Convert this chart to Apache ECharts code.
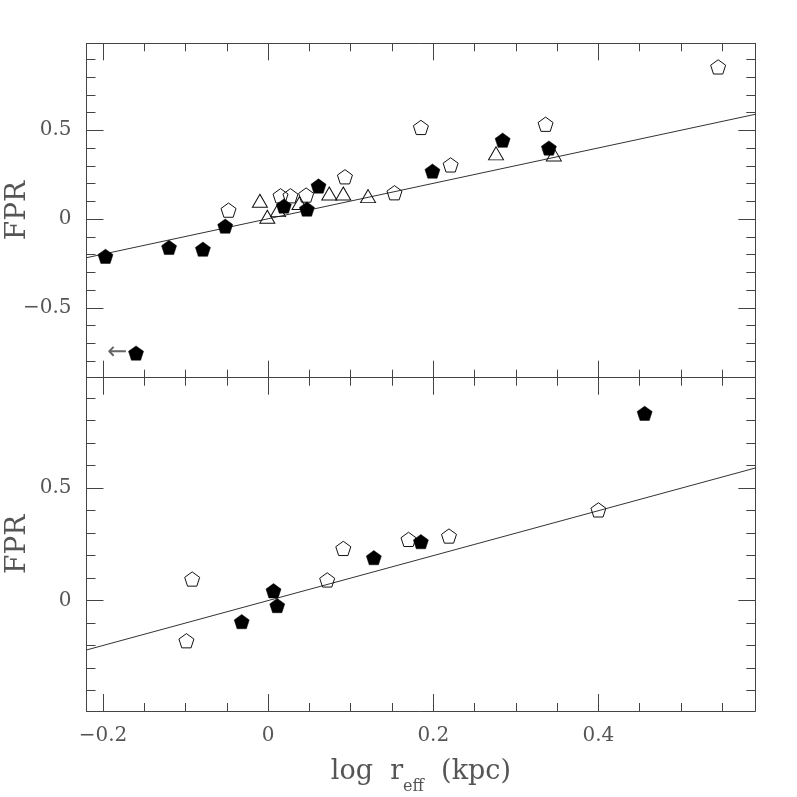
<!DOCTYPE html>
<html><head><meta charset="utf-8">
<script src="https://cdn.jsdelivr.net/npm/echarts@6/dist/echarts.min.js"></script>
<style>html,body{margin:0;padding:0;background:#fff}#c{width:797px;height:797px}</style>
</head><body><div id="c"></div><script>
// ---- axis ranges and ticks ----
const xRange = [-0.22, 0.59];
const topYRange = [-0.894, 0.99];
const botYRange = [-0.49, 0.99];
const xMajor = [-0.2, 0, 0.2, 0.4];
const xMinor = [-0.2,-0.15,-0.1,-0.05,0,0.05,0.1,0.15,0.2,0.25,0.3,0.35,0.4,0.45,0.5,0.55];
const topYMajor = [-0.5, 0, 0.5];
const topYMinor = [-0.8,-0.7,-0.6,-0.5,-0.4,-0.3,-0.2,-0.1,0,0.1,0.2,0.3,0.4,0.5,0.6,0.7,0.8,0.9];
const botYMajor = [0, 0.5];
const botYMinor = [-0.4,-0.3,-0.2,-0.1,0,0.1,0.2,0.3,0.4,0.5,0.6,0.7,0.8,0.9];

// ---- top panel data ----
const topFilledX = [-0.197, -0.12, -0.079, -0.052, 0.019, 0.047, 0.061, 0.199, 0.284, 0.34];
const topFilledY = [-0.21, -0.16, -0.17, -0.04, 0.073, 0.056, 0.186, 0.27, 0.444, 0.40];
const topLimitX = [-0.16];
const topLimitY = [-0.755];
const topOpenX = [-0.048, 0.015, 0.027, 0.046, 0.093, 0.153, 0.185, 0.221, 0.336, 0.545];
const topOpenY = [0.05, 0.131, 0.131, 0.135, 0.238, 0.148, 0.516, 0.305, 0.534, 0.857];
const topTriX = [-0.010, -0.001, 0.012, 0.038, 0.074, 0.091, 0.121, 0.276, 0.346];
const topTriY = [0.103, 0.013, 0.05, 0.09, 0.144, 0.144, 0.129, 0.37, 0.364];
const topFitX = [-0.22, 0.59];
const topFitY = [-0.218, 0.59];

// ---- bottom panel data ----
const botOpenX = [-0.092, -0.099, 0.0715, 0.091, 0.170, 0.219, 0.40];
const botOpenY = [0.096, -0.178, 0.092, 0.232, 0.272, 0.287, 0.403];
const botFilledX = [-0.032, 0.0065, 0.011, 0.128, 0.185, 0.456];
const botFilledY = [-0.093, 0.044, -0.022, 0.191, 0.262, 0.832];
const botFitX = [-0.22, 0.59];
const botFitY = [-0.219, 0.589];

const zip = (xs, ys) => xs.map((x, i) => [x, ys[i]]);
const frame = '#444';
const txt = '#555';
const font = 'DejaVu Serif';
const pent = 'path://M0,-100 L95.1,-30.9 L58.8,80.9 L-58.8,80.9 L-95.1,-30.9 Z';
const fmt = v => (v < 0 ? '\u2212' : '') + String(Math.abs(v));

function xAxes(grid, withLabels) {
  const base = {type:'value', gridIndex:grid, min:xRange[0], max:xRange[1], splitLine:{show:false},
    axisLine:{show:true, onZero:false, lineStyle:{color:frame, width:1}}, axisLabel:{show:false}};
  const tk = (vals, len) => ({show:true, inside:true, length:len, customValues:vals, lineStyle:{color:frame, width:1}});
  const main = Object.assign({}, base, {position:'bottom', axisTick:tk(xMajor, 17)});
  if (withLabels) {
    main.axisLabel = {show:true, customValues:xMajor, formatter:fmt, margin:15, fontSize:20, color:txt, fontFamily:font};
    main.name = '{n|log  r}{s|eff}{n|  (kpc)}';
    main.nameLocation = 'middle';
    main.nameGap = 46;
    main.nameMoveOverlap = false;
    main.nameTextStyle = {rich:{
      n:{fontSize:27, lineHeight:30, color:txt, fontFamily:font, verticalAlign:'middle'},
      s:{fontSize:16, lineHeight:30, color:txt, fontFamily:font, verticalAlign:'middle', padding:[30,0,0,0]}
    }};
  }
  return [main,
    Object.assign({}, base, {position:'bottom', axisLine:{show:false, onZero:false}, axisTick:tk(xMinor, 8)}),
    Object.assign({}, base, {position:'top', axisTick:tk(xMajor, 17)}),
    Object.assign({}, base, {position:'top', axisLine:{show:false, onZero:false}, axisTick:tk(xMinor, 8)})];
}
function yAxes(grid, range, major, minor) {
  const base = {type:'value', gridIndex:grid, min:range[0], max:range[1], splitLine:{show:false},
    axisLine:{show:true, onZero:false, lineStyle:{color:frame, width:1}}, axisLabel:{show:false}};
  const tk = (vals, len) => ({show:true, inside:true, length:len, customValues:vals, lineStyle:{color:frame, width:1}});
  const main = Object.assign({}, base, {position:'left', axisTick:tk(major, 17),
    axisLabel:{show:true, customValues:major, formatter:fmt, margin:15, fontSize:20, color:txt, fontFamily:font},
    name:'FPR', nameLocation:'middle', nameGap:55, nameMoveOverlap:false,
    nameTextStyle:{fontSize:28, color:txt, fontFamily:font}});
  return [main,
    Object.assign({}, base, {position:'left', axisLine:{show:false, onZero:false}, axisTick:tk(minor, 9)}),
    Object.assign({}, base, {position:'right', axisTick:tk(major, 17)}),
    Object.assign({}, base, {position:'right', axisLine:{show:false, onZero:false}, axisTick:tk(minor, 9)})];
}

const openStyle = {color:'rgba(0,0,0,0)', borderColor:'#111', borderWidth:1, opacity:1};
const fillStyle = {color:'#000', borderColor:'#000', borderWidth:0.5, opacity:1};
function scatter(gi, data, symbol, size, style, z, extra) {
  return Object.assign({type:'scatter', xAxisIndex:gi*4, yAxisIndex:gi*4, data, symbol, symbolSize:size,
    symbolKeepAspect:true, itemStyle:style, z, silent:true}, extra || {});
}
function fit(gi, data) {
  return {type:'line', xAxisIndex:gi*4, yAxisIndex:gi*4, data, symbol:'none', lineStyle:{color:'#333', width:1}, z:1, silent:true};
}

const option = {
  animation:false,
  backgroundColor:'#fff',
  grid:[
    {left:86.5, top:43.3, width:668.8, height:334.4, containLabel:false, outerBoundsMode:'none'},
    {left:86.5, top:377.7, width:668.8, height:333.3, containLabel:false, outerBoundsMode:'none'}
  ],
  xAxis: xAxes(0, false).concat(xAxes(1, true)),
  yAxis: yAxes(0, topYRange, topYMajor, topYMinor).concat(yAxes(1, botYRange, botYMajor, botYMinor)),
  series:[
    fit(0, zip(topFitX, topFitY)),
    scatter(0, zip(topTriX, topTriY), 'triangle', [15,13], openStyle, 3),
    scatter(0, zip(topOpenX, topOpenY), pent, 15, openStyle, 4),
    scatter(0, zip(topFilledX, topFilledY), pent, 15, fillStyle, 5),
    scatter(0, zip(topLimitX, topLimitY), pent, 15, fillStyle, 5,
      {label:{show:true, position:'left', distance:1, formatter:'\u2190', fontSize:24, color:'#666', fontFamily:'DejaVu Sans'}}),
    fit(1, zip(botFitX, botFitY)),
    scatter(1, zip(botOpenX, botOpenY), pent, 15, openStyle, 4),
    scatter(1, zip(botFilledX, botFilledY), pent, 15, fillStyle, 5)
  ]
};
echarts.init(document.getElementById('c')).setOption(option);
</script></body></html>
